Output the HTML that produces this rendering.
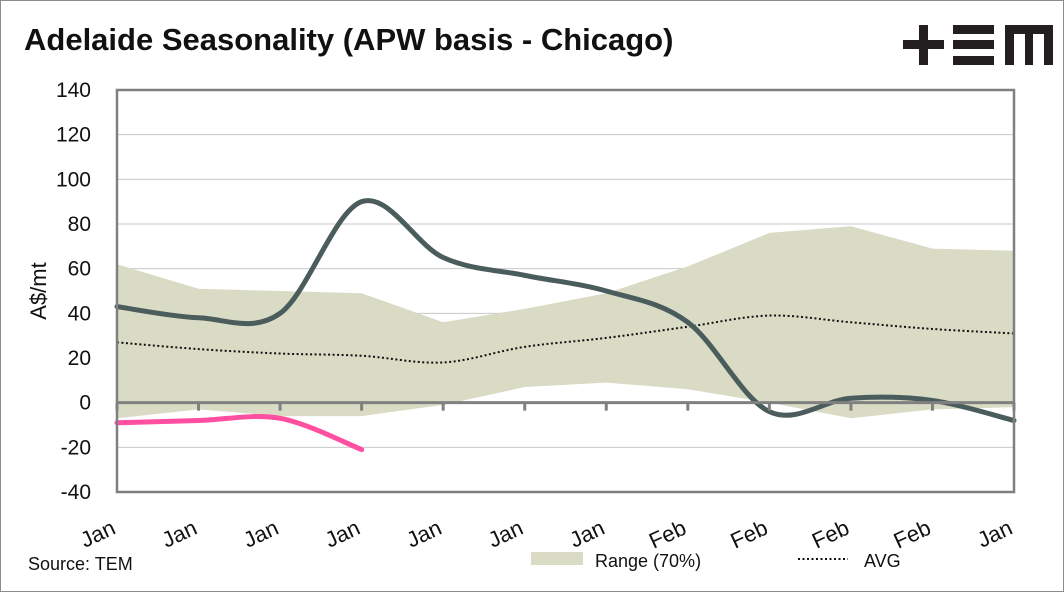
<!DOCTYPE html>
<html><head><meta charset="utf-8">
<style>
html,body{margin:0;padding:0;background:#fff}
svg{display:block;font-family:"Liberation Sans",sans-serif}
</style></head>
<body>
<svg id="chart" width="1064" height="592" viewBox="0 0 1064 592">
<rect x="0.5" y="0.5" width="1063" height="591" fill="#fff" stroke="#8c8c8c"/>
<text x="24" y="50" font-size="31" font-weight="bold" fill="#111">Adelaide Seasonality (APW basis - Chicago)</text>
<g fill="#231f20">
<rect x="903" y="40" width="41" height="9"/><rect x="919" y="25" width="9" height="40"/>
<rect x="953" y="25" width="41" height="9"/><rect x="953" y="40" width="41" height="9"/><rect x="953" y="56" width="41" height="9"/>
<path d="M1005 25 H1053 V65 H1044 V34 H1033 V65 H1025 V34 H1014 V65 H1005 Z"/>
</g>
<text transform="translate(46,291) rotate(-90)" text-anchor="middle" font-size="22" fill="#111">A$/mt</text>
<g id="grid"></g><g id="marks"></g><g id="axes"></g>
<text x="28" y="570" font-size="18" fill="#111">Source: TEM</text>
<g>
<g><rect x="531" y="552" width="52" height="13" fill="#d9dbc5"/><text x="595" y="567" font-size="18" fill="#111">Range (70%)</text></g>
<g><line x1="798" y1="559" x2="848" y2="559" stroke="#111" stroke-width="2" stroke-dasharray="2,2.5"/><text x="864" y="567" font-size="18" fill="#111">AVG</text></g>
</g>
</svg>
<script>
const categories=["Jan","Jan","Jan","Jan","Jan","Jan","Jan","Feb","Feb","Feb","Feb","Jan"];
const yTicks=[140,120,100,80,60,40,20,0,-20,-40];
const rangeUpper=[62,51,50,49,36,42,49,61,76,79,69,68];
const rangeLower=[-7,-3,-6,-6,-1,7,9,6,0,-7,-3,-2];
const avgValues=[27,24,22,21,18,25,29,34,39,36,33,31];
const currentValues=[43,38,40,90,65,57,50,36,-4,2,1,-8];
const lastYearValues=[-9,-8,-7,-21];
const X0=117,X1=1014,Y0=90,Y1=492,YMAX=140,YMIN=-40;
const xs=i=>X0+(X1-X0)*i/(categories.length-1);
const ys=v=>Y0+(YMAX-v)/(YMAX-YMIN)*(Y1-Y0);
const NS="http://www.w3.org/2000/svg";
function mk(tag,attrs,parent){const e=document.createElementNS(NS,tag);for(const k in attrs)e.setAttribute(k,attrs[k]);parent.appendChild(e);return e;}
function smooth(vals){const p=vals.map((v,i)=>[xs(i),ys(v)]);let d="M"+p[0][0]+","+p[0][1];
for(let i=0;i<p.length-1;i++){const a=p[i-1]||p[i],b=p[i],c=p[i+1],e=p[i+2]||c;const t=0.5/3;
d+=" C"+(b[0]+(c[0]-a[0])*t)+","+(b[1]+(c[1]-a[1])*t)+" "+(c[0]-(e[0]-b[0])*t)+","+(c[1]-(e[1]-b[1])*t)+" "+c[0]+","+c[1];}return d;}
const grid=document.getElementById('grid'),marks=document.getElementById('marks'),axes=document.getElementById('axes');
yTicks.forEach(v=>{
 if(v!==0&&v!==YMAX&&v!==YMIN){const g=mk('line',{x1:X0,x2:X1,y1:ys(v),y2:ys(v),stroke:'#c8c8c8','stroke-width':1},grid);
 
 }
 const t=mk('text',{x:91,y:ys(v)+7,'text-anchor':'end','font-size':21,fill:'#111'},axes);t.textContent=v;
 
 
});
let area="M"+rangeUpper.map((v,i)=>xs(i)+","+ys(v)).join(" L");
for(let i=rangeLower.length-1;i>=0;i--)area+=" L"+xs(i)+","+ys(rangeLower[i]);
const ar=mk('path',{d:area+"Z",fill:'#d9dbc5'},marks);


const av=mk('path',{d:smooth(avgValues),fill:'none',stroke:'#111','stroke-width':2,'stroke-dasharray':'2,2.5'},marks);


const za=mk('line',{x1:X0,x2:X1,y1:ys(0),y2:ys(0),stroke:'#808080','stroke-width':3},axes);


categories.forEach((c,i)=>{
 const tk=mk('line',{x1:xs(i),x2:xs(i),y1:ys(0),y2:ys(0)+8,stroke:'#808080','stroke-width':3},axes);
 
 
 const t=mk('text',{transform:`translate(${xs(i)},${533}) rotate(-25)`,'text-anchor':'end','font-size':22,fill:'#111'},axes);t.textContent=c;
 
 
});
const pl=mk('path',{d:smooth(lastYearValues),fill:'none',stroke:'#ff4fa0','stroke-width':5,'stroke-linecap':'round'},marks);


const cl=mk('path',{d:smooth(currentValues),fill:'none',stroke:'#4a5c5c','stroke-width':5,'stroke-linecap':'round'},marks);


const fr=mk('rect',{x:X0,y:Y0,width:X1-X0,height:Y1-Y0,fill:'none',stroke:'#808080','stroke-width':2.5},axes);


</script>
</body></html>
